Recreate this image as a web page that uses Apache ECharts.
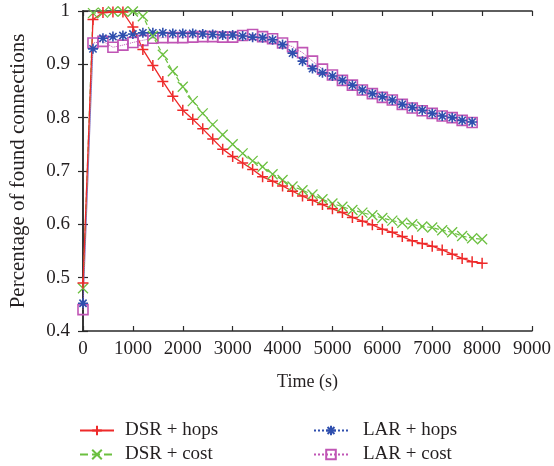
<!DOCTYPE html>
<html>
<head>
<meta charset="utf-8">
<script src="https://cdn.jsdelivr.net/npm/echarts@6/dist/echarts.min.js"></script>
<style>
  html, body { margin: 0; padding: 0; background: #fff; }
  #chart { width: 554px; height: 466px; }
</style>
</head>
<body>
<div id="chart"></div>
<script>
// Simulation time (s) at which each sample was taken
const timesDSR = [0, 200, 400, 600, 800, 1000, 1200, 1400, 1600, 1800, 2000, 2200, 2400, 2600, 2800, 3000,
  3200, 3400, 3600, 3800, 4000, 4200, 4400, 4600, 4800, 5000, 5200, 5400, 5600, 5800, 6000,
  6200, 6400, 6600, 6800, 7000, 7200, 7400, 7600, 7800, 8000];
const timesLAR = timesDSR.slice(0, 40);

// Fraction of connections found
const dsrHops = [0.49, 0.984, 0.997, 0.998, 0.998, 0.970, 0.928, 0.898, 0.868, 0.840, 0.814, 0.797, 0.779, 0.760, 0.741, 0.727,
  0.715, 0.703, 0.689, 0.681, 0.672, 0.662, 0.653, 0.645, 0.637, 0.629, 0.622, 0.613, 0.606, 0.599, 0.591,
  0.585, 0.577, 0.569, 0.564, 0.559, 0.552, 0.544, 0.536, 0.530, 0.527];
const dsrCost = [0.48, 0.996, 0.997, 0.999, 0.999, 0.999, 0.990, 0.953, 0.918, 0.887, 0.858, 0.831, 0.808, 0.787, 0.768, 0.750,
  0.733, 0.719, 0.708, 0.694, 0.683, 0.671, 0.664, 0.656, 0.647, 0.639, 0.633, 0.627, 0.622, 0.617, 0.612,
  0.607, 0.603, 0.600, 0.596, 0.594, 0.589, 0.585, 0.578, 0.574, 0.572];
const larHops = [0.452, 0.929, 0.949, 0.952, 0.954, 0.957, 0.959, 0.959, 0.959, 0.958, 0.958, 0.958, 0.957, 0.956, 0.955, 0.955,
  0.953, 0.951, 0.950, 0.946, 0.937, 0.921, 0.906, 0.892, 0.884, 0.878, 0.870, 0.861, 0.852, 0.845, 0.839,
  0.833, 0.825, 0.819, 0.814, 0.808, 0.803, 0.800, 0.795, 0.792];
const larCost = [0.440, 0.940, 0.943, 0.932, 0.936, 0.941, 0.945, 0.949, 0.950, 0.950, 0.950, 0.951, 0.952, 0.952, 0.951, 0.951,
  0.954, 0.956, 0.952, 0.948, 0.940, 0.933, 0.922, 0.906, 0.891, 0.880, 0.870, 0.861, 0.852, 0.845, 0.838,
  0.833, 0.825, 0.818, 0.813, 0.808, 0.803, 0.800, 0.795, 0.791];

const seriesNames = ['DSR + hops', 'DSR + cost', 'LAR + hops', 'LAR + cost'];

const xTicks = { min: 0, max: 9000, interval: 1000 };
const yTicks = { min: 0.4, max: 1, interval: 0.1 };

const pairs = (xs, ys) => xs.map((x, i) => [x, ys[i]]);

const FONT = '"Liberation Serif", "DejaVu Serif", serif';
const INK = '#231f20';

const PLUS = 'path://M0,-1L0,1M-1,0L1,0';
const CROSS = 'path://M-1,-1L1,1M-1,1L1,-1';
const STAR = 'path://M0,-1L0,1M-1,0L1,0M-0.72,-0.72L0.72,0.72M-0.72,0.72L0.72,-0.72';

function markedLine(name, data, color, lineType, symbol, size, strokeW, width) {
  return {
    name: name,
    type: 'line',
    data: data,
    symbol: symbol,
    symbolSize: size,
    showAllSymbol: true,
    lineStyle: { color: color, width: width, type: lineType },
    itemStyle: { color: 'rgba(0,0,0,0)', borderColor: color, borderWidth: strokeW },
    emphasis: { disabled: true },
    z: 3
  };
}

// One legend block per entry, laid out as a 2x2 grid under the plot
function legendEntry(name, left, top, textGap) {
  return {
    data: [name],
    left: left, top: top,
    itemWidth: 34, itemHeight: 12,
    textStyle: { fontFamily: FONT, fontSize: 19, color: INK, padding: [0, 0, 0, textGap] }
  };
}

const baseAxisLine = { show: true, lineStyle: { color: '#2a2a2a', width: 1.5 } };
const innerTicks = { show: true, inside: true, length: 5, lineStyle: { color: '#2a2a2a', width: 1.2 } };

const chart = echarts.init(document.getElementById('chart'), null, { renderer: 'canvas' });
chart.setOption({
  animation: false,
  backgroundColor: '#fff',
  grid: { left: 83, right: 21, top: 11, bottom: 135 },
  xAxis: [
    {
      type: 'value', min: xTicks.min, max: xTicks.max, interval: xTicks.interval,
      name: 'Time (s)', nameLocation: 'middle', nameGap: 42,
      nameTextStyle: { fontFamily: FONT, fontSize: 18, color: INK },
      axisLine: baseAxisLine, axisTick: innerTicks, splitLine: { show: false },
      axisLabel: { fontFamily: FONT, fontSize: 19, color: INK, margin: 9, formatter: v => String(v) }
    },
    {
      type: 'value', position: 'top', min: xTicks.min, max: xTicks.max, interval: xTicks.interval,
      axisLine: baseAxisLine, axisTick: innerTicks, splitLine: { show: false },
      axisLabel: { show: false }
    }
  ],
  yAxis: [
    {
      type: 'value', min: yTicks.min, max: yTicks.max, interval: yTicks.interval,
      name: 'Percentage of found connections', nameLocation: 'middle', nameGap: 54,
      nameTextStyle: { fontFamily: FONT, fontSize: 21, color: INK },
      axisLine: baseAxisLine, axisTick: innerTicks, splitLine: { show: false },
      axisLabel: {
        fontFamily: FONT, fontSize: 19, color: INK, margin: 13,
        formatter: v => (Math.abs(v - 1) < 1e-9 ? '1' : String(Math.round(v * 10) / 10))
      }
    },
    {
      type: 'value', position: 'right', min: yTicks.min, max: yTicks.max, interval: yTicks.interval,
      axisLine: baseAxisLine, axisTick: innerTicks, splitLine: { show: false },
      axisLabel: { show: false }
    }
  ],
  legend: [
    legendEntry(seriesNames[0], 74, 416, 6),
    legendEntry(seriesNames[1], 74, 440, 6),
    legendEntry(seriesNames[2], 308, 416, 10),
    legendEntry(seriesNames[3], 308, 440, 10)
  ],
  series: [
    markedLine(seriesNames[3], pairs(timesLAR, larCost), '#c055b5', 'dotted', 'rect', 10, 1.6, 1),
    markedLine(seriesNames[2], pairs(timesLAR, larHops), '#2f4fae', 'dotted', STAR, 10, 1.6, 1),
    markedLine(seriesNames[1], pairs(timesDSR, dsrCost), '#6cc040', 'dashed', CROSS, 10, 1.3, 1.2),
    markedLine(seriesNames[0], pairs(timesDSR, dsrHops), '#ee2a2a', 'solid', PLUS, 11, 1.5, 1.3)
  ]
});
</script>
</body>
</html>
